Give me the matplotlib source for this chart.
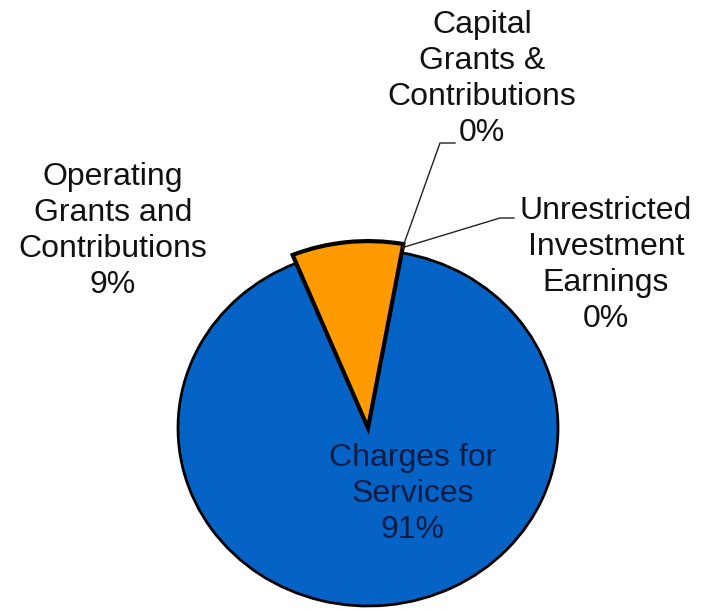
import numpy as np
import matplotlib.pyplot as plt

plt.rcParams['font.family'] = ['Liberation Sans', 'DejaVu Sans']

# revenue sources, share of total (%)
categories = ['Charges for\nServices',
              'Operating\nGrants and\nContributions',
              'Capital\nGrants &\nContributions',
              'Unrestricted\nInvestment\nEarnings']
shares = [91, 9, 0, 0]
colors = ['#0663C6', '#FF9A00', '#A5A5A5', '#FFC000']

W, H = 701, 609
CX, CY, RX, RY = 368, 428, 190, 178


def px(x, y):
    # pixel position (from top-left) -> data coords of the pie axes
    return (x - CX) / RX, (CY - y) / RY


fig = plt.figure(figsize=(W / 100, H / 100), dpi=100)
ax = fig.add_axes([0, 0, 1, 1])

wedges, _ = ax.pie(shares, colors=colors, startangle=79.8, counterclock=False,
                   wedgeprops=dict(edgecolor='black', linewidth=2.0))
wedges[1].set_radius(1.05)
wedges[1].set_linewidth(3.0)
wedges[1].set_zorder(3)

ax.set_aspect('auto')
ax.set_xlim(-CX / RX, (W - CX) / RX)
ax.set_ylim(-(H - CY) / RY, CY / RY)
ax.axis('off')

labels = [f'{c}\n{v:.0f}%' for c, v in zip(categories, shares)]
label_pos = [(413, 494), (113, 231), (482, 79), (606, 265)]
text_colors = ['#0B1C45', '#111111', '#111111', '#111111']
for lab, (x, y), tc in zip(labels, label_pos, text_colors):
    ax.text(*px(x, y), lab, ha='center', va='center', fontsize=23,
            color=tc, linespacing=1.27, zorder=5)

# leader lines for the zero-size slices
elbows = {2: [(440, 143), (455, 143)], 3: [(500, 218), (514, 218)]}
for i, pts in elbows.items():
    th = np.deg2rad(wedges[i].theta1)
    x0, y0 = 1.03 * np.cos(th), 1.03 * np.sin(th)
    xs = [x0] + [px(*p)[0] for p in pts]
    ys = [y0] + [px(*p)[1] for p in pts]
    ax.plot(xs, ys, color='#222222', lw=1.0, zorder=4)

fig.savefig('out.png', dpi=100)
